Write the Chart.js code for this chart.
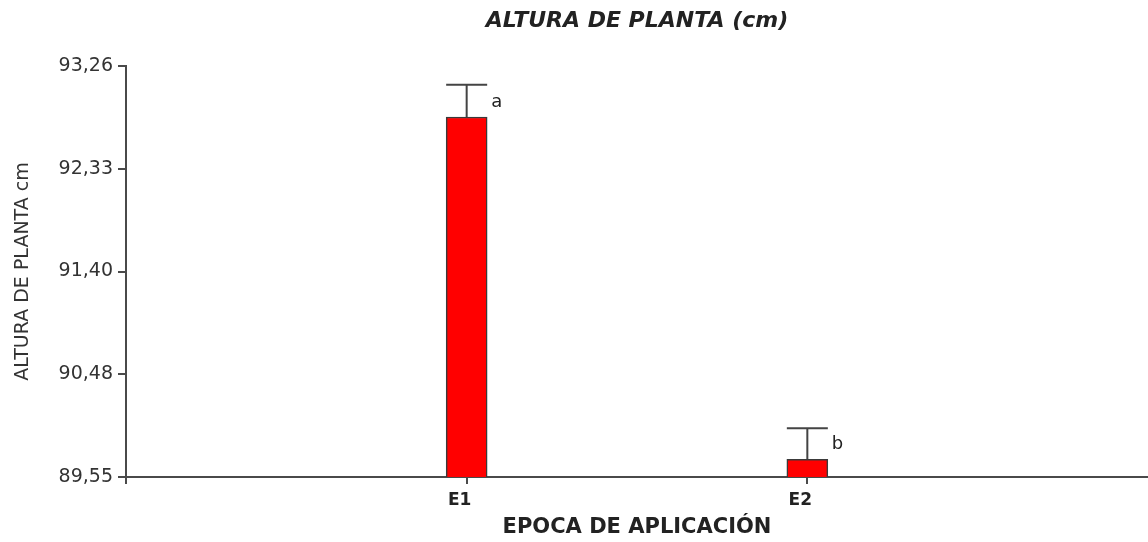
<!DOCTYPE html>
<html lang="es">
<head>
<meta charset="utf-8">
<title>Altura de planta</title>
<script src="https://cdn.jsdelivr.net/npm/chart.js@4.4.1/dist/chart.umd.min.js"></script>
<style>
  html, body { margin: 0; padding: 0; background: #ffffff; }
  #chart { display: block; }
</style>
</head>
<body>
<canvas id="chart" width="1148" height="542"></canvas>
<script>
// Plant height by application time (means with standard error and significance letters)
const categories = ['E1', 'E2'];
const meanHeight = [92.80, 89.71];
const stdError = [0.29, 0.28];
const groupLetters = ['a', 'b'];
const yTickValues = [89.55, 90.4775, 91.405, 92.3325, 93.26];
const yTickLabels = ['89,55', '90,48', '91,40', '92,33', '93,26'];

// Empty slots on each side place E1 and E2 at one third and two thirds of the axis.
const axisLabels = [''].concat(categories, ['']);
const barValues = [null].concat(meanHeight, [null]);
const errValues = [null].concat(stdError, [null]);
const letterValues = [null].concat(groupLetters, [null]);

const AXIS = '#4a4a4a';
const TEXT = '#222222';

const errorBarPlugin = {
  id: 'errorBars',
  afterDatasetsDraw(chart) {
    const { ctx } = chart;
    const yScale = chart.scales.y;
    const meta = chart.getDatasetMeta(0);
    ctx.save();
    meta.data.forEach((bar, i) => {
      const v = barValues[i];
      if (v === null || v === undefined) return;
      const props = bar.getProps(['x', 'y', 'width'], true);
      const topY = yScale.getPixelForValue(v + errValues[i]);
      const half = props.width / 2;
      ctx.strokeStyle = '#444444';
      ctx.lineWidth = 2;
      ctx.beginPath();
      ctx.moveTo(props.x, props.y);
      ctx.lineTo(props.x, topY);
      ctx.moveTo(props.x - half, topY);
      ctx.lineTo(props.x + half, topY);
      ctx.stroke();
      // significance letter
      ctx.fillStyle = TEXT;
      ctx.font = '18px "DejaVu Sans", sans-serif';
      ctx.textAlign = 'left';
      ctx.textBaseline = 'middle';
      ctx.fillText(letterValues[i], props.x + half + 4, (props.y + topY) / 2 + 1);
    });
    ctx.restore();
  }
};

new Chart(document.getElementById('chart'), {
  type: 'bar',
  data: {
    labels: axisLabels,
    datasets: [{
      data: barValues,
      backgroundColor: '#ff0000',
      borderColor: '#3a3a3a',
      borderWidth: 1.5,
      barThickness: 41
    }]
  },
  options: {
    responsive: false,
    animation: false,
    devicePixelRatio: 1,
    layout: { padding: { left: 0, right: 0, top: 0, bottom: 0 } },
    plugins: {
      legend: { display: false },
      tooltip: { enabled: false },
      title: {
        display: true,
        fullSize: false,
        text: 'ALTURA DE PLANTA (cm)',
        color: TEXT,
        font: { family: '"DejaVu Sans", sans-serif', size: 22, weight: 'bold', style: 'italic', lineHeight: 1.2 },
        padding: { top: 8, bottom: 31.6 }
      }
    },
    scales: {
      x: {
        type: 'category',
        offset: false,
        afterFit(scale) {
          scale.height = 65;
          scale.paddingLeft = 0;
          scale.paddingRight = 0;
        },
        border: { display: true, color: AXIS, width: 2 },
        grid: {
          offset: false,
          drawOnChartArea: false,
          drawTicks: true,
          tickLength: 7,
          color: (c) => (c.index === axisLabels.length - 1 ? 'rgba(0,0,0,0)' : AXIS),
          lineWidth: 2
        },
        ticks: {
          color: TEXT,
          autoSkip: false,
          maxRotation: 0,
          padding: 6,
          labelOffset: -7,
          font: { family: '"DejaVu Sans", sans-serif', size: 17, weight: 'bold' }
        },
        title: {
          display: true,
          text: 'EPOCA DE APLICACIÓN',
          color: TEXT,
          font: { family: '"DejaVu Sans", sans-serif', size: 21, weight: 'bold', lineHeight: 1.2 },
          padding: { top: 0, bottom: 2 }
        }
      },
      y: {
        type: 'linear',
        min: 89.55,
        max: 93.26,
        afterFit(scale) { scale.width = 126; },
        afterBuildTicks(scale) {
          scale.ticks = yTickValues.map(v => ({ value: v }));
        },
        border: { display: true, color: AXIS, width: 2 },
        grid: {
          drawOnChartArea: false,
          drawTicks: true,
          tickLength: 8,
          color: AXIS,
          lineWidth: 2
        },
        ticks: {
          color: '#333333',
          padding: 5,
          font: { family: '"DejaVu Sans", sans-serif', size: 19 },
          callback(value, index) { return yTickLabels[index]; }
        },
        title: {
          display: true,
          text: 'ALTURA DE PLANTA cm',
          color: '#333333',
          font: { family: '"DejaVu Sans", sans-serif', size: 19, lineHeight: 1.2 },
          padding: { top: 12, bottom: 0 }
        }
      }
    }
  },
  plugins: [errorBarPlugin]
});
</script>
</body>
</html>
